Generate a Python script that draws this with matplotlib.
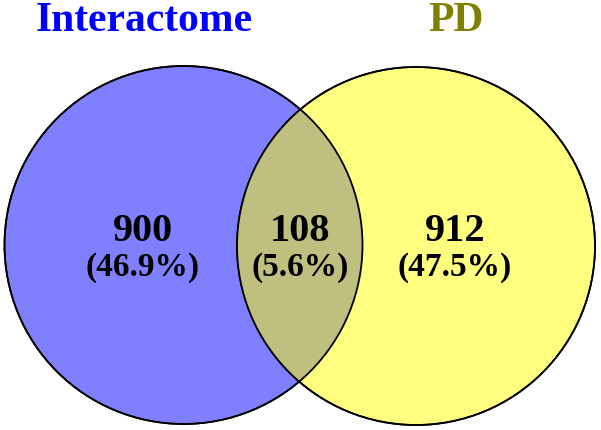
import matplotlib

matplotlib.use("Agg")
import matplotlib.pyplot as plt
from matplotlib.patches import Circle

# data
set_names = ["Interactome", "PD"]
region_counts = [900, 108, 912]  # only Interactome, both, only PD
total = sum(region_counts)
region_pcts = [100 * c / total for c in region_counts]

# style
FONT = "Liberation Serif"
BLUE = "#8080ff"
YELLOW = "#ffff80"
OVERLAP = "#bfbf80"
TITLE_COLORS = ["#0000ff", "#808000"]

W, H = 601, 431
fig = plt.figure(figsize=(W / 100, H / 100), dpi=100)
ax = fig.add_axes([0, 0, 1, 1])
ax.set_xlim(0, W)
ax.set_ylim(H, 0)
ax.axis("off")

centers = [(183.5, 246), (416, 247)]
radius = 179

left = Circle(centers[0], radius, facecolor=BLUE, edgecolor="black", linewidth=1.2, zorder=1)
right = Circle(centers[1], radius, facecolor=YELLOW, edgecolor="black", linewidth=1.2, zorder=1)
ax.add_patch(left)
ax.add_patch(right)

# overlap: right circle clipped to the left one
mid = Circle(centers[1], radius, facecolor=OVERLAP, edgecolor="none", zorder=2)
ax.add_patch(mid)
mid.set_clip_path(Circle(centers[0], radius, transform=ax.transData))

# outlines on top
for c in centers:
    ax.add_patch(Circle(c, radius, facecolor="none", edgecolor="black", linewidth=1.3, zorder=3))

# titles
title_x = [144, 456]
for name, x, col in zip(set_names, title_x, TITLE_COLORS):
    ax.text(x, 21, name, ha="center", va="center", fontsize=30, fontweight="bold",
            family=FONT, color=col)

# region labels
label_x = [143, 300, 455]
for x, n, p in zip(label_x, region_counts, region_pcts):
    ax.text(x, 232, f"{n}", ha="center", va="center", fontsize=29, fontweight="bold",
            family=FONT, color="black", zorder=4)
    ax.text(x, 268, f"({p:.1f}%)", ha="center", va="center", fontsize=24, fontweight="bold",
            family=FONT, color="black", zorder=4)

fig.savefig("out.png", dpi=100)
plt.close(fig)
